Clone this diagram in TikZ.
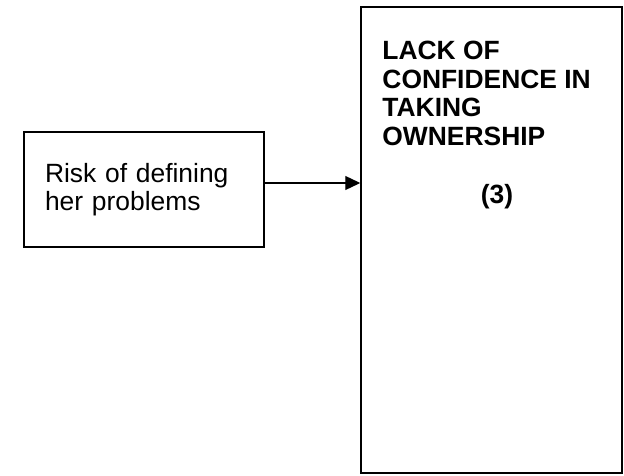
\documentclass[tikz,border=0pt]{standalone}
\usepackage{fontspec}
\setmainfont{Liberation Sans}
\usepackage{tikz}
\usetikzlibrary{arrows.meta}
\usetikzlibrary{calc}
\tikzset{my arrow/.style={
  black,
  line width=1.3pt,
  -{Triangle[length=15pt,width=14pt]}
  }
}
\tikzset{my box/.style={
  draw,
  line width=1.5pt,
  inner sep=0pt
  }
}

\begin{document}
\begin{tikzpicture}[x=1pt,y=1pt]
    \useasboundingbox (0,0) rectangle (624,475);
    \fontsize{26.4}{28.4}\selectfont

    \node[my box,minimum width=240pt,minimum height=115pt,text width=198pt,align=left] (risk) at (144,285.5) {Risk of defining\\her problems};

    \node[my box,minimum width=261pt,minimum height=466pt] (lack) at (491.5,235) {};
    \node[anchor=north west,inner sep=0pt,align=left,font=\bfseries] (lacktext) at ([xshift=22pt,yshift=-35pt]lack.north west) {LACK OF\\CONFIDENCE IN\\TAKING\\OWNERSHIP};
    \node[anchor=base,inner sep=0pt,font=\bfseries] (three) at (497,272) {(3)};

    \draw[my arrow]  ([yshift=6.5pt]risk.east) to ([yshift=6.5pt]risk.east -| lack.west);

\end{tikzpicture}
\end{document}
